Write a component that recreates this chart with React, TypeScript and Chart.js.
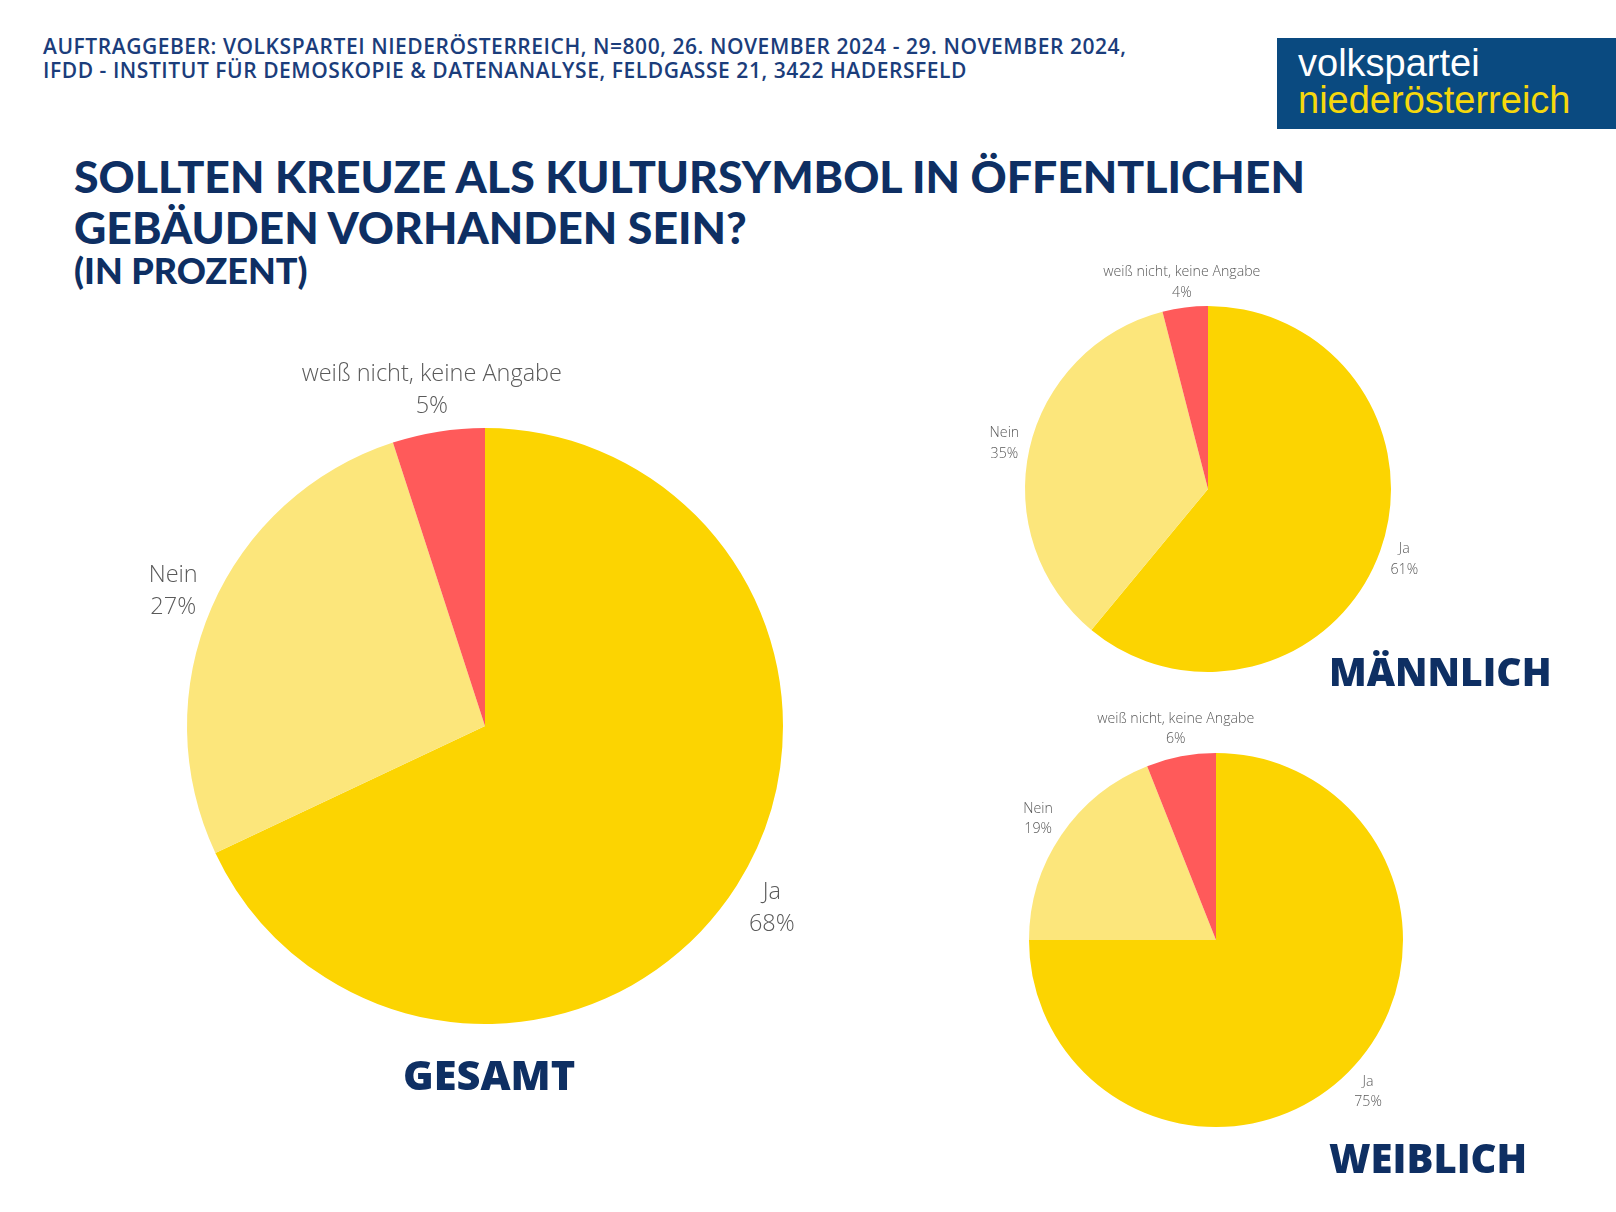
import React, { useEffect, useRef } from 'react';
import { Chart, registerables } from 'chart.js';

Chart.register(...registerables);

// ---- data ----
const categories = ['Ja', 'Nein', 'weiß nicht, keine Angabe'];
const gesamtValues = [68, 27, 5];
const maennlichValues = [61, 35, 4];
const weiblichValues = [75, 19, 6];
const sliceColors = ['#FCD401', '#FCE67B', '#FF5A5A'];

const headerLines = [
  'AUFTRAGGEBER: VOLKSPARTEI NIEDERÖSTERREICH, N=800, 26. NOVEMBER 2024 - 29. NOVEMBER 2024,',
  'IFDD - INSTITUT FÜR DEMOSKOPIE & DATENANALYSE, FELDGASSE 21, 3422 HADERSFELD',
];
const titleLines = ['SOLLTEN KREUZE ALS KULTURSYMBOL IN ÖFFENTLICHEN', 'GEBÄUDEN VORHANDEN SEIN?'];
const subtitle = '(IN PROZENT)';

const NAVY = '#0e2f63';

const outsideLabels = {
  id: 'outsideLabels',
  afterDatasetsDraw(chart: any, _args: any, opts: any) {
    const ctx = chart.ctx;
    const meta = chart.getDatasetMeta(0);
    const values = chart.data.datasets[0].data;
    const labels = chart.data.labels;
    ctx.save();
    ctx.font = `${opts.weight} ${opts.size}px "Open Sans"`;
    ctx.fillStyle = opts.color;
    ctx.textAlign = 'center';
    ctx.textBaseline = 'middle';
    meta.data.forEach((arc: any, i: number) => {
      const { x, y, startAngle, endAngle, outerRadius } = arc.getProps(
        ['x', 'y', 'startAngle', 'endAngle', 'outerRadius'],
        true
      );
      const mid = (startAngle + endAngle) / 2;
      const d = outerRadius * opts.factor;
      const cx = x + Math.cos(mid) * d;
      const cy = y + Math.sin(mid) * d;
      ctx.fillText(String(labels[i]), cx, cy - opts.lineHeight / 2);
      ctx.fillText(values[i] + '%', cx, cy + opts.lineHeight / 2);
    });
    ctx.restore();
  },
};

type PieProps = {
  values: number[];
  left: number;
  top: number;
  size: number;
  pad: number;
  fontSize: number;
  lineHeight: number;
  factor: number;
};

function Pie({ values, left, top, size, pad, fontSize, lineHeight, factor }: PieProps) {
  const ref = useRef<HTMLCanvasElement>(null);
  useEffect(() => {
    if (!ref.current) return;
    const chart = new Chart(ref.current, {
      type: 'pie',
      data: {
        labels: categories,
        datasets: [
          {
            data: values,
            backgroundColor: sliceColors,
            borderWidth: 0,
            hoverOffset: 0,
            offset: 0,
          } as any,
        ],
      },
      options: {
        responsive: false,
        animation: false,
        events: [],
        layout: { padding: pad },
        plugins: {
          legend: { display: false },
          tooltip: { enabled: false },
          outsideLabels: {
            size: fontSize,
            lineHeight,
            factor,
            color: '#5a5a5a',
            weight: 300,
          },
        } as any,
      },
      plugins: [outsideLabels],
    });
    return () => chart.destroy();
  }, []);
  return (
    <canvas
      ref={ref}
      width={size}
      height={size}
      style={{ position: 'absolute', left, top, width: size, height: size }}
    />
  );
}

function TextLine({ text, left, cy, size, weight, family, color, lh, ls }: any) {
  return (
    <div
      style={{
        position: 'absolute',
        left,
        top: cy - lh / 2,
        height: lh,
        lineHeight: lh + 'px',
        fontSize: size,
        fontWeight: weight,
        fontFamily: family,
        color,
        letterSpacing: ls || 0,
        whiteSpace: 'nowrap',
      }}
    >
      {text}
    </div>
  );
}

export default function App() {
  return (
    <div
      style={{
        position: 'absolute',
        left: 0,
        top: 0,
        width: 1616,
        height: 1212,
        overflow: 'hidden',
        background: '#ffffff',
      }}
    >
      {headerLines.map((t, i) => (
        <TextLine
          key={t}
          text={t}
          left={43}
          cy={46 + i * 24}
          size={21}
          weight={600}
          family='"Open Sans", sans-serif'
          color="#1b3d7b"
          lh={24}
          ls="0.55px"
        />
      ))}

      <div
        style={{
          position: 'absolute',
          left: 1277,
          top: 38,
          width: 339,
          height: 91,
          background: '#0a4a80',
        }}
      >
        <div
          style={{
            position: 'absolute',
            left: 21,
            top: 6,
            fontFamily: '"Liberation Sans", Arial, sans-serif',
            fontSize: 38,
            lineHeight: '38px',
            color: '#ffffff',
            whiteSpace: 'nowrap',
          }}
        >
          volkspartei
        </div>
        <div
          style={{
            position: 'absolute',
            left: 21,
            top: 43,
            fontFamily: '"Liberation Sans", Arial, sans-serif',
            fontSize: 38,
            lineHeight: '38px',
            color: '#f6d80c',
            whiteSpace: 'nowrap',
          }}
        >
          niederösterreich
        </div>
      </div>

      {titleLines.map((t, i) => (
        <TextLine
          key={t}
          text={t}
          left={74}
          cy={176 + i * 51}
          size={44.6}
          weight={900}
          family='Lato, sans-serif'
          color={NAVY}
          lh={50}
        />
      ))}
      <TextLine text={subtitle} left={74} cy={270} size={36} weight={900} family="Lato, sans-serif" color={NAVY} lh={42} />

      <Pie values={gesamtValues} left={57} top={298} size={856} pad={130} fontSize={23.5} lineHeight={32} factor={1.14} />
      <Pie values={maennlichValues} left={925} top={206} size={566} pad={100} fontSize={14.2} lineHeight={21} factor={1.14} />
      <Pie values={weiblichValues} left={929} top={653} size={574} pad={100} fontSize={14.2} lineHeight={20} factor={1.15} />

      <TextLine text="GESAMT" left={403} cy={1074} size={41.5} weight={800} family='"Open Sans", sans-serif' color={NAVY} lh={50} />
      <TextLine text="MÄNNLICH" left={1329} cy={671} size={39} weight={800} family='"Open Sans", sans-serif' color={NAVY} lh={50} />
      <TextLine text="WEIBLICH" left={1329} cy={1158} size={40} weight={800} family='"Open Sans", sans-serif' color={NAVY} lh={50} />
    </div>
  );
}
